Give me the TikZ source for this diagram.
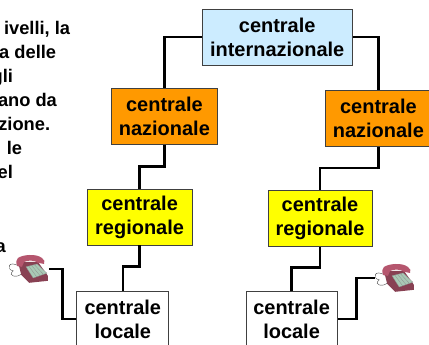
\documentclass[tikz,border=0pt]{standalone}
\usepackage{fontspec}
\usetikzlibrary{calc}
\setmainfont{Liberation Sans}
\definecolor{celeste}{HTML}{CCECFF}
\definecolor{arancio}{HTML}{FF9900}
\definecolor{giallo}{HTML}{FFFF00}
\definecolor{rosa}{HTML}{B5566E}
\definecolor{tasti}{HTML}{A9C9B5}
\tikzset{
  centrale/.style={draw=black!75,line width=0.6pt,align=center,font=\bfseries\fontsize{14.2}{17}\selectfont,inner sep=0pt},
  filo/.style={draw=black,line width=1.7pt,line join=miter},
  riga/.style={anchor=base east,inner sep=0pt,font=\bfseries\fontsize{13}{15}\selectfont},
  telefono/.pic={
    \draw[black!70,line width=0.3pt,fill=white] (-0.25,0.08) .. controls (-0.55,0.28) and (-0.6,0) .. (-0.42,-0.02) .. controls (-0.58,-0.16) and (-0.32,-0.2) .. (-0.2,-0.1);
    \fill[rosa!75!black] (-0.3,0.2) -- (-0.22,-0.12) -- (-0.02,-0.32) -- (0.45,-0.27) -- (0.45,-0.15) -- (0.2,0.2) -- cycle;
    \fill[rosa] (-0.32,0.1) .. controls (-0.36,0.2) and (-0.34,0.26) .. (-0.3,0.3) .. controls (-0.2,0.38) and (0.15,0.42) .. (0.3,0.3) .. controls (0.36,0.26) and (0.38,0.2) .. (0.35,0.15) -- (0.2,0.18) .. controls (0.12,0.25) and (-0.08,0.25) .. (-0.15,0.2) -- (-0.2,0.08) -- cycle;
    \fill[tasti,draw=black!45,line width=0.2pt] (-0.1,0.08) -- (0.08,-0.2) -- (0.42,-0.08) -- (0.18,0.15) -- cycle;
    \foreach \k in {0.25,0.5,0.75}
      \draw[black!45,line width=0.2pt] ($(-0.1,0.08)!\k!(0.18,0.15)$) -- ($(0.08,-0.2)!\k!(0.42,-0.08)$);
  }
}
\begin{document}
\begin{tikzpicture}
  \useasboundingbox (0,0) rectangle (10.725,8.625);
  % testo
  \node[riga] (t1) at (1.76,7.77) {ivelli, la};
  \node[riga] (t2) at (1.41,7.17) {a delle};
  \node[riga] (t3) at (0.33,6.57) {gli};
  \node[riga] (t4) at (1.43,5.97) {ano da};
  \node[riga] (t5) at (1.26,5.35) {zione.};
  \node[riga] (t6) at (0.56,4.75) {le};
  \node[riga] (t7) at (0.33,4.15) {el};
  \node[riga] (t8) at (0.15,2.3) {a};
  % centrali
  \node[centrale,fill=celeste,minimum width=3.75cm,minimum height=1.4cm] (inter) at (6.93,7.7) {centrale\\internazionale};
  \node[centrale,fill=arancio,minimum width=2.63cm,minimum height=1.4cm] (nazA) at (4.11,5.72) {centrale\\nazionale};
  \node[centrale,fill=arancio,minimum width=2.63cm,minimum height=1.4cm] (nazB) at (9.46,5.67) {centrale\\nazionale};
  \node[centrale,fill=giallo,minimum width=2.63cm,minimum height=1.4cm] (regA) at (3.49,3.2) {centrale\\regionale};
  \node[centrale,fill=giallo,minimum width=2.6cm,minimum height=1.4cm] (regB) at (8,3.16) {centrale\\regionale};
  \node[centrale,fill=white,minimum width=2.3cm,minimum height=1.4cm] (locA) at (3.07,0.65) {centrale\\locale};
  \node[centrale,fill=white,minimum width=2.28cm,minimum height=1.4cm] (locB) at (7.29,0.65) {centrale\\locale};
  % telefoni
  \pic at (0.75,1.875) {telefono};
  \pic at (9.9,1.65) {telefono};
  \coordinate (telA) at (1.22,1.9);
  \coordinate (telB) at (9.37,1.68);
  % collegamenti
  \draw[filo] (inter.west) -| (nazA.north);
  \draw[filo] (inter.east) -| (nazB.north);
  \draw[filo] (nazA.south) |- ($(regA.north)+(0,0.55)$) -- (regA.north);
  \draw[filo] (nazB.south) |- ($(regB.north)+(0,0.55)$) -- (regB.north);
  \draw[filo] (regA.south) |- ($(locA.north)+(0,0.6)$) -- (locA.north);
  \draw[filo] (regB.south) |- ($(locB.north)+(0,0.58)$) -- (locB.north);
  \draw[filo] (telA) -| ($(locA.west)+(-0.35,0)$) -- (locA.west);
  \draw[filo] (telB) -| ($(locB.east)+(0.47,0)$) -- (locB.east);
\end{tikzpicture}
\end{document}
